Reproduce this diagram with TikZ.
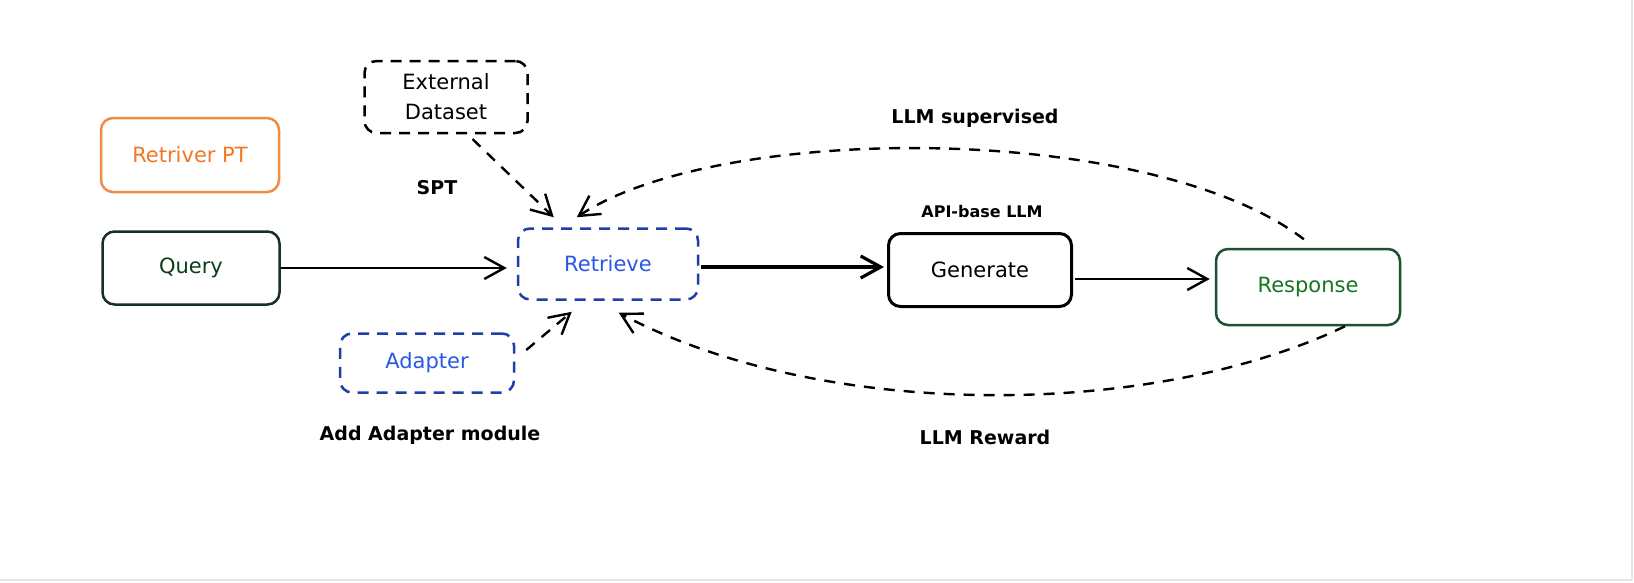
\documentclass[tikz,border=0pt]{standalone}
\usepackage{fontspec}
\setmainfont{DejaVu Sans}
\usetikzlibrary{arrows.meta}

\begin{document}
\begin{tikzpicture}[x=1pt,y=-1pt,
            box/.style={draw,rounded corners=12pt,line width=2.5pt,align=center,
                        font=\fontsize{21}{30}\selectfont},
            dashBox/.style={box,dash pattern=on 11pt off 8pt},
            noteText/.style={font=\bfseries\fontsize{19}{23}\selectfont},
            link/.style={line width=2.4pt,-{Straight Barb[length=20pt,width=22pt]}},
            dashLink/.style={link,dash pattern=on 11pt off 9pt}]
            \definecolor{ptLine}{RGB}{240,140,70}
            \definecolor{ptText}{RGB}{242,118,35}
            \definecolor{queryLine}{RGB}{25,48,32}
            \definecolor{queryText}{RGB}{12,62,22}
            \definecolor{retLine}{RGB}{32,62,170}
            \definecolor{retText}{RGB}{40,88,228}
            \definecolor{respLine}{RGB}{30,80,50}
            \definecolor{respText}{RGB}{22,118,32}
            \useasboundingbox (0,0) rectangle (1634,582);
            \fill[white] (0,0) rectangle (1634,582);
            \draw[black!10,line width=2pt] (1632,0) -- (1632,580) -- (0,580);
            % boxes
            \node[box,draw=ptLine,text=ptText,minimum width=178pt,minimum height=74pt] (retriverPT) at (190,155) {Retriver PT};
            \node[box,draw=queryLine,text=queryText,minimum width=177pt,minimum height=73pt] (query) at (191,268) {Query};
            \node[dashBox,minimum width=163pt,minimum height=72pt] (extData) at (446,97) {External\\Dataset};
            \node[dashBox,draw=retLine,text=retText,minimum width=180pt,minimum height=71pt] (retrieve) at (608,264) {Retrieve};
            \node[dashBox,draw=retLine,text=retText,minimum width=174pt,minimum height=59pt] (adapter) at (427,363) {Adapter};
            \node[box,line width=3pt,minimum width=183pt,minimum height=73pt] (generate) at (980,270) {Generate};
            \node[box,draw=respLine,text=respText,minimum width=184pt,minimum height=76pt] (response) at (1308,287) {Response};
            % labels
            \node[noteText] (sptLabel) at (437,188) {SPT};
            \node[noteText] (adapterLabel) at (430,435) {Add Adapter module};
            \node[noteText,font=\bfseries\fontsize{16}{20}\selectfont] (apiLabel) at (982,212) {API-base LLM};
            \node[noteText] (supLabel) at (975,118) {LLM supervised};
            \node[noteText] (rewardLabel) at (985,437) {LLM Reward};
            % arrows
            \draw[link,shorten >=10pt] (query.east) -- (query.east -| retrieve.west);
            \draw[link,line width=3.2pt,shorten <=2pt,shorten >=3pt] ([yshift=-3pt]retrieve.east) -- ([yshift=-3pt]retrieve.east -| generate.west);
            \draw[link,shorten <=2pt,shorten >=5pt] ([yshift=-9pt]generate.east) -- ([yshift=-9pt]generate.east -| response.west);
            \draw[dashLink,shorten <=7pt] (extData.-60) -- ([xshift=37pt,yshift=10pt]retrieve.north west);
            \draw[dashLink] ([xshift=11pt,yshift=13pt]adapter.east) -- ([xshift=55pt,yshift=-11pt]retrieve.south west);
            \draw[dashLink,shorten <=14pt] ([xshift=7pt]response.north) .. controls (1150,122) and (720,122) .. ([xshift=60pt,yshift=10pt]retrieve.north west);
            \draw[dashLink] ([xshift=37pt]response.south) .. controls (1150,420) and (820,420) .. ([xshift=102pt,yshift=-12pt]retrieve.south west);
        \end{tikzpicture}
\end{document}
